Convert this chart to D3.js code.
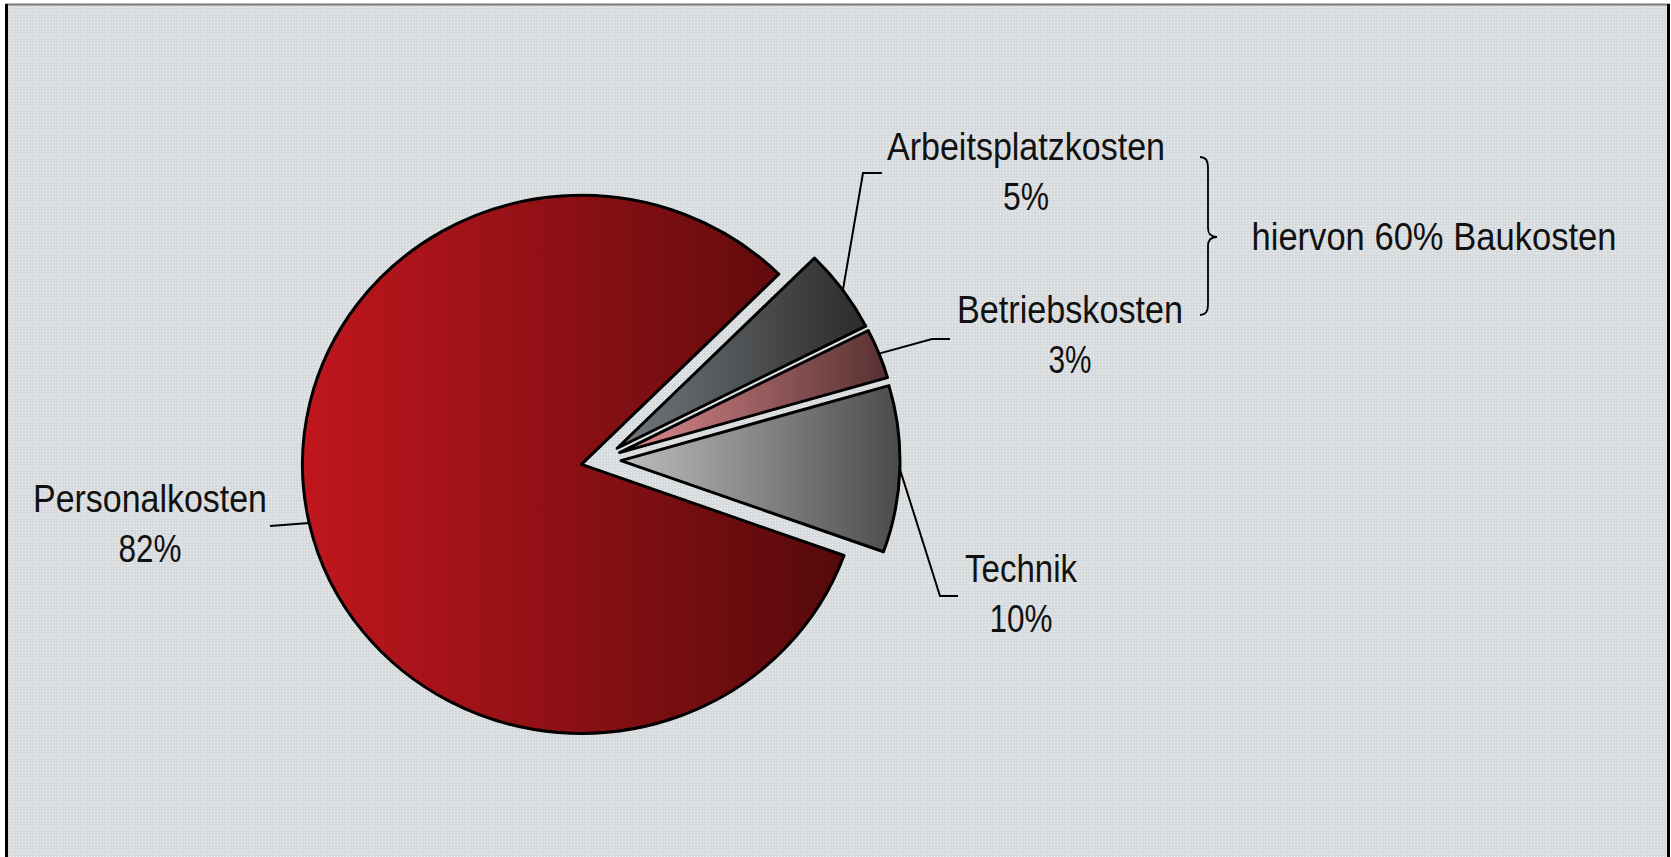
<!DOCTYPE html>
<html><head><meta charset="utf-8">
<script src="https://cdn.jsdelivr.net/npm/d3@7"></script>
<style>html,body{margin:0;padding:0;background:#fff;overflow:hidden}</style>
</head><body><svg id="chart" width="1671" height="857"></svg>
<script>
// ---- data ----
const categories = ["Arbeitsplatzkosten", "Betriebskosten", "Technik", "Personalkosten"];
const values = [5, 3, 10, 82];
const valueLabels = ["5%", "3%", "10%", "82%"];
const noteText = "hiervon 60% Baukosten";

// ---- layout / style ----
const W = 1671, H = 857;
const cx = 601, cy = 460, rx = 279, ry = 269, explode = 20;
const startDeg = 45;
const gradColors = [["#75797c", "#2a2b2c"], ["#df8c90", "#573031"], ["#bebebe", "#4a4c4c"], ["#c1161e", "#550a0b"]];
const labelLayout = [
  {x: 1026, y: 160, w: 278, pw: 46, elbow: [863, 173], end: [882, 173]},
  {x: 1070, y: 323, w: 226, pw: 43, elbow: [932, 339], end: [950, 339]},
  {x: 1021, y: 582, w: 112, pw: 63, elbow: [940, 596], end: [958, 596]},
  {x: 150,  y: 512, w: 234, pw: 63, elbow: null, end: [270, 526]}
];
const fontFamily = '"Liberation Sans","Arial",sans-serif';
const fontSize = 38;

const svg = d3.select("#chart");
const defs = svg.append("defs");
const pat = defs.append("pattern").attr("id", "bg").attr("patternUnits", "userSpaceOnUse")
  .attr("width", 3).attr("height", 3);
pat.append("rect").attr("width", 3).attr("height", 3).attr("fill", "#d8dbdd");
pat.append("rect").attr("x", 1).attr("y", 1).attr("width", 1).attr("height", 1).attr("fill", "#f2f3f4");

svg.append("rect").attr("x", 7).attr("y", 5).attr("width", 1661).attr("height", H).attr("fill", "url(#bg)");
svg.append("line").attr("x1", 5).attr("x2", 1670).attr("y1", 4.5).attr("y2", 4.5)
  .attr("stroke", "#7a7a7a").attr("stroke-width", 2);
svg.append("line").attr("x1", 6.5).attr("x2", 6.5).attr("y1", 4).attr("y2", H)
  .attr("stroke", "#000").attr("stroke-width", 3);
svg.append("line").attr("x1", 1668.5).attr("x2", 1668.5).attr("y1", 4).attr("y2", H)
  .attr("stroke", "#000").attr("stroke-width", 3);

// gradients
gradColors.forEach((c, i) => {
  const g = defs.append("linearGradient").attr("id", "g" + i)
    .attr("x1", 0).attr("y1", 0).attr("x2", 1).attr("y2", 0);
  g.append("stop").attr("offset", 0).attr("stop-color", c[0]);
  g.append("stop").attr("offset", 1).attr("stop-color", c[1]);
});

const toRad = d => d * Math.PI / 180;
const pie = d3.pie().sort(null).value(d => d)
  .startAngle(toRad(startDeg)).endAngle(toRad(startDeg) + 2 * Math.PI);
const arcs = pie(values);
const arc = d3.arc().innerRadius(0).outerRadius(ry);
const sx = rx / ry;

function offsetOf(a) {
  const m = (a.startAngle + a.endAngle) / 2;
  return [explode * Math.sin(m), -explode * Math.cos(m)];
}
function edgePoint(a) {
  const m = (a.startAngle + a.endAngle) / 2;
  const o = offsetOf(a);
  return [cx + o[0] + rx * Math.sin(m), cy + o[1] - ry * Math.cos(m)];
}

arcs.forEach((a, i) => {
  const o = offsetOf(a);
  svg.append("g")
    .attr("transform", `translate(${cx + o[0]},${cy + o[1]}) scale(${sx},1)`)
    .append("path")
    .attr("d", arc(a))
    .attr("fill", `url(#g${i})`)
    .attr("stroke", "#000")
    .attr("stroke-width", 3)
    .attr("stroke-linejoin", "round")
    .attr("vector-effect", "non-scaling-stroke");
});

// leader lines
const line = d3.line();
arcs.forEach((a, i) => {
  const L = labelLayout[i];
  const pts = [edgePoint(a)];
  if (L.elbow) pts.push(L.elbow);
  pts.push(L.end);
  svg.append("path").attr("d", line(pts)).attr("fill", "none")
    .attr("stroke", "#000").attr("stroke-width", 2);
});

// labels
const labG = svg.append("g").attr("font-family", fontFamily).attr("font-size", fontSize)
  .attr("fill", "#111").attr("text-anchor", "middle");
categories.forEach((c, i) => {
  const L = labelLayout[i];
  labG.append("text").attr("x", L.x).attr("y", L.y).text(c)
    .attr("textLength", L.w).attr("lengthAdjust", "spacingAndGlyphs");
  labG.append("text").attr("x", L.x).attr("y", L.y + 50).text(valueLabels[i])
    .attr("textLength", L.pw).attr("lengthAdjust", "spacingAndGlyphs");
});

// brace
svg.append("path")
  .attr("d", "M1200,157 Q1208,157 1208,167 L1208,228 Q1208,237 1217,237 Q1208,237 1208,246 L1208,305 Q1208,315 1200,315")
  .attr("fill", "none").attr("stroke", "#000").attr("stroke-width", 1.8);
labG.append("text").attr("x", 1434).attr("y", 250).text(noteText)
  .attr("textLength", 365).attr("lengthAdjust", "spacingAndGlyphs");
</script>
</body></html>
